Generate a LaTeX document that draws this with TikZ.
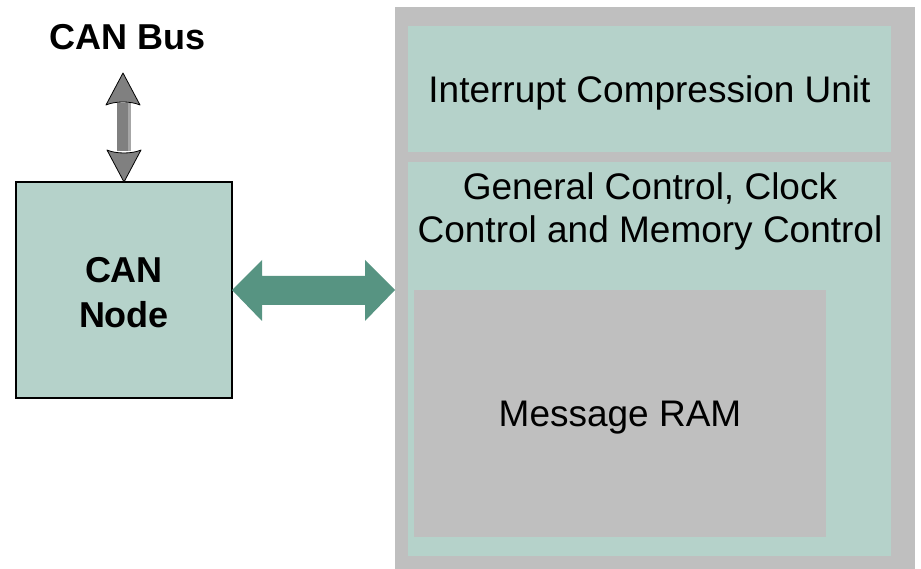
\documentclass[tikz,border=0pt]{standalone}
\usepackage{fontspec}
\setmainfont{Liberation Sans}
\usetikzlibrary{calc}
\definecolor{teall}{HTML}{B5D2CA}
\definecolor{grayb}{HTML}{BFBFBF}
\definecolor{arrowteal}{HTML}{579482}
\definecolor{arrowgray}{HTML}{808080}
\definecolor{shaftlight}{HTML}{A6A6A6}
\tikzset{
  block/.style={anchor=north west, inner sep=0pt, outer sep=0pt, draw=none},
  txt/.style={font=\fontsize{37}{43}\selectfont, align=center, inner sep=0pt},
  btxt/.style={font=\fontsize{36}{45}\selectfont\bfseries, align=center, inner sep=0pt},
}
\begin{document}
\begin{tikzpicture}[x=1pt,y=-1pt]
\useasboundingbox (0,0) rectangle (921,569);
% M_CAN module
\node[block, fill=grayb, minimum width=520, minimum height=562] (mcan) at (395,7) {};
\node[block, fill=teall, minimum width=483, minimum height=126] (icu) at (408,26) {};
\node[txt] (icutxt) at ($(icu.center)+(0,4)$) {Interrupt Compression Unit};
\node[block, fill=teall, minimum width=483, minimum height=394] (ctrl) at (408,162) {};
\node[txt] (ctrltxt) at (650,211) {General Control, Clock\\Control and Memory Control};
\node[block, fill=grayb, minimum width=412, minimum height=247] (ram) at (414,290) {};
\node[txt] (ramtxt) at ($(ram.center)+(0,4)$) {Message RAM};
% CAN node
\node[block, fill=teall, draw=black, line width=1.2pt, minimum width=216, minimum height=216] (cannode) at (16,182) {};
\node[btxt] (cannodetxt) at ($(cannode.center)+(0,3)$) {CAN\\Node};
% CAN bus label
\node[btxt] (canbus) at (128,37) {CAN Bus};
% vertical arrow
\coordinate (bustip) at ($(cannode.north)+(-1,-109)$);
\fill[arrowgray] ($(cannode.north)+(-7,-79)$) rectangle ($(cannode.north)+(7,-31)$);
\fill[shaftlight] ($(cannode.north)+(4,-79)$) rectangle ($(cannode.north)+(7,-31)$);
\draw[fill=arrowgray, line width=0.8pt, line join=round]
  (bustip) -- ($(bustip)+(17,32)$)
  .. controls ($(bustip)+(8,28)$) and ($(bustip)+(-8,28)$) .. ($(bustip)+(-17,32)$) -- cycle;
\draw[fill=arrowgray, line width=0.8pt, line join=round]
  (cannode.north) -- ($(cannode.north)+(17,-32)$)
  .. controls ($(cannode.north)+(8,-28)$) and ($(cannode.north)+(-8,-28)$) .. ($(cannode.north)+(-17,-32)$) -- cycle;
% horizontal double arrow
\coordinate (rt) at (mcan.west |- cannode.east);
\fill[arrowteal] (cannode.east) -- ($(cannode.east)+(30,-30)$) -- ($(cannode.east)+(30,-14)$)
  -- ($(rt)+(-30,-14)$) -- ($(rt)+(-30,-30)$) -- (rt) -- ($(rt)+(-30,31)$) -- ($(rt)+(-30,15)$)
  -- ($(cannode.east)+(30,15)$) -- ($(cannode.east)+(30,31)$) -- cycle;
\end{tikzpicture}
\end{document}
